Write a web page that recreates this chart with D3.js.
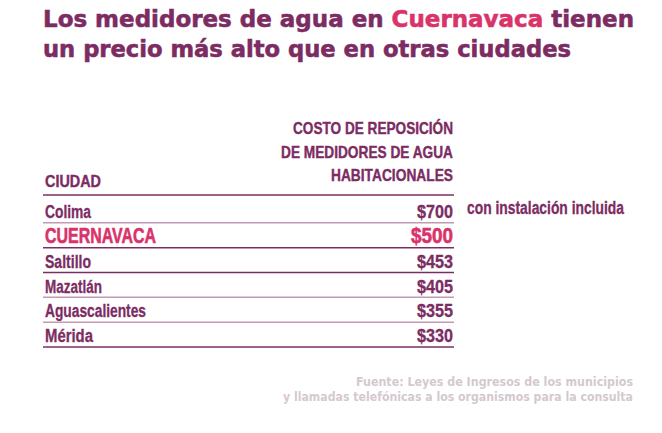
<!DOCTYPE html>
<html><head><meta charset="utf-8">
<script src="https://cdn.jsdelivr.net/npm/d3@7"></script>
<style>body{margin:0;background:#fff}svg{display:block}</style>
</head><body>
<svg id="c" width="662" height="433"></svg>
<script>
const cities = ["Colima","CUERNAVACA","Saltillo","Mazatlán","Aguascalientes","Mérida"];
const costs = [700,500,453,405,355,330];
const highlight = "CUERNAVACA";
const notes = {"Colima":"con instalación incluida"};
const headerLines = ["COSTO DE REPOSICIÓN","DE MEDIDORES DE AGUA","HABITACIONALES"];
const titleLines = [["Los medidores de agua en ",""],["Cuernavaca","hi"],[" tienen",""]];
const title2 = "un precio más alto que en otras ciudades";
const sourceLines = ["Fuente: Leyes de Ingresos de los municipios","y llamadas telefónicas a los organismos para la consulta"];

const PURPLE="#7c2c63", PINK="#d9336a", LIGHT="#c39ab5";
const svg=d3.select("#c");
const bodyFont="'Liberation Sans', Arial, sans-serif";
const titleFont="'DejaVu Sans', sans-serif";

function fit(sel, target){
  sel.attr("textLength",target).attr("lengthAdjust","spacingAndGlyphs");
  return sel;
}
function heavy(sel, col, w){ return sel.attr("stroke",col).attr("stroke-width",w).attr("paint-order","stroke"); }

// title
const t1=svg.append("text").attr("x",43).attr("y",27).attr("font-family",titleFont)
  .attr("font-weight",700).attr("font-size",23.5).attr("fill",PURPLE)
  .attr("stroke",PURPLE).attr("stroke-width",0.6);
titleLines.forEach(([s,k])=>t1.append("tspan").text(s).attr("fill",k?PINK:PURPLE).attr("stroke",k?PINK:PURPLE));
fit(t1,591);
const t2=svg.append("text").attr("x",43).attr("y",57).attr("font-family",titleFont)
  .attr("font-weight",700).attr("font-size",23.5).attr("fill",PURPLE)
  .attr("stroke",PURPLE).attr("stroke-width",0.6).text(title2);
fit(t2,528);

const left=44, right=454;
const y=d3.scaleBand().domain(cities).range([198,347]).padding(0);
const x=d3.scaleLinear().domain([0,1]).range([left,right]);

// header
const hw=[160,172,122];
headerLines.forEach((h,i)=>{
  heavy(fit(svg.append("text").attr("x",x(1)-1).attr("y",134+i*23.5).attr("text-anchor","end")
    .attr("font-family",bodyFont).attr("font-weight",700).attr("font-size",17)
    .attr("fill",PURPLE).text(h), hw[i]),PURPLE,0.4);
});
heavy(fit(svg.append("text").attr("x",x(0)+1).attr("y",187).attr("font-family",bodyFont)
  .attr("font-weight",700).attr("font-size",17).attr("fill",PURPLE).text("CIUDAD"),56),PURPLE,0.4);
svg.append("line").attr("x1",x(0)-1).attr("x2",x(1)).attr("y1",195).attr("y2",195)
  .attr("stroke",PURPLE).attr("stroke-width",1.5);

const nameW={"Colima":46,"CUERNAVACA":111,"Saltillo":46,"Mazatlán":57,"Aguascalientes":101,"Mérida":48};
const lineCol=[LIGHT,PURPLE,PURPLE,LIGHT,LIGHT,PURPLE];
cities.forEach((c,i)=>{
  const hi=c===highlight;
  const col=hi?PINK:PURPLE;
  const g=svg.append("g");
  const nm=g.append("text").attr("x",x(0)+1).attr("y",y(c)+20).attr("font-family",bodyFont)
    .attr("font-weight",700).attr("font-size",hi?21.5:17.5).attr("fill",col).text(c);
  heavy(fit(nm,nameW[c]),col,hi?0.6:0.3);
  const v=g.append("text").attr("x",x(1)-1).attr("y",y(c)+20).attr("text-anchor","end")
    .attr("font-family",bodyFont).attr("font-weight",700).attr("font-size",hi?21.5:17.5)
    .attr("fill",col).text("$"+d3.format("d")(costs[i]));
  heavy(fit(v,hi?42:36),col,hi?0.6:0.3);
  if(notes[c]){
    heavy(fit(g.append("text").attr("x",467).attr("y",y(c)+16).attr("font-family",bodyFont)
      .attr("font-weight",700).attr("font-size",17.5).attr("fill",PURPLE).text(notes[c]),157),PURPLE,0.3);
  }
  g.append("line").attr("x1",x(0)-1).attr("x2",x(1)).attr("y1",y(c)+y.step()).attr("y2",y(c)+y.step())
    .attr("stroke",lineCol[i]).attr("stroke-width",1.5);
});

// source
const sw=[277,350];
sourceLines.forEach((s,i)=>{
  fit(svg.append("text").attr("x",633).attr("y",386+i*15).attr("text-anchor","end")
    .attr("font-family",titleFont).attr("font-weight",700).attr("font-size",12)
    .attr("fill","#d4c9cf").text(s), sw[i]);
});
</script>
</body></html>
